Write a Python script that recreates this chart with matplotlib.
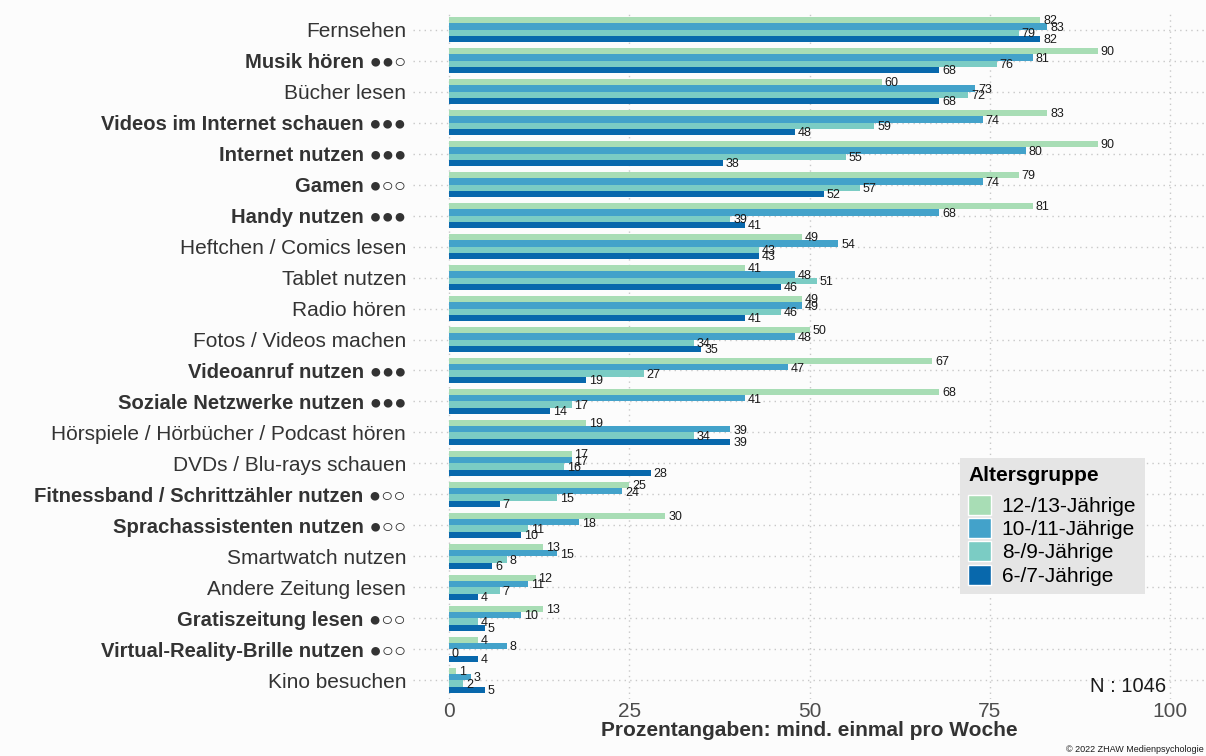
import numpy as np
import matplotlib
matplotlib.use("Agg")
import matplotlib.pyplot as plt

plt.rcParams['font.family'] = ['Liberation Sans', 'DejaVu Sans']

# Daten (von oben nach unten)
kategorien = [
    "Fernsehen", "Musik hören ●●○", "Bücher lesen", "Videos im Internet schauen ●●●",
    "Internet nutzen ●●●", "Gamen ●○○", "Handy nutzen ●●●", "Heftchen / Comics lesen",
    "Tablet nutzen", "Radio hören", "Fotos / Videos machen", "Videoanruf nutzen ●●●",
    "Soziale Netzwerke nutzen ●●●", "Hörspiele / Hörbücher / Podcast hören",
    "DVDs / Blu-rays schauen", "Fitnessband / Schrittzähler nutzen ●○○",
    "Sprachassistenten nutzen ●○○", "Smartwatch nutzen", "Andere Zeitung lesen",
    "Gratiszeitung lesen ●○○", "Virtual-Reality-Brille nutzen ●○○", "Kino besuchen",
]
jahre_12_13 = [82, 90, 60, 83, 90, 79, 81, 49, 41, 49, 50, 67, 68, 19, 17, 25, 30, 13, 12, 13, 4, 1]
jahre_10_11 = [83, 81, 73, 74, 80, 74, 68, 54, 48, 49, 48, 47, 41, 39, 17, 24, 18, 15, 11, 10, 8, 3]
jahre_8_9 = [79, 76, 72, 59, 55, 57, 39, 43, 51, 46, 34, 27, 17, 34, 16, 15, 11, 8, 7, 4, 0, 2]
jahre_6_7 = [82, 68, 68, 48, 38, 52, 41, 43, 46, 41, 35, 19, 14, 39, 28, 7, 10, 6, 4, 5, 4, 5]

gruppen = ["12-/13-Jährige", "10-/11-Jährige", "8-/9-Jährige", "6-/7-Jährige"]
farben = ["#a8ddb5", "#43a2ca", "#7bccc4", "#0868ac"]
serien = [jahre_12_13, jahre_10_11, jahre_8_9, jahre_6_7]

bg = "#fcfcfc"
fig = plt.figure(figsize=(12.06, 7.56), dpi=100, facecolor=bg)
ax = fig.add_axes([413 / 1206, 1 - 699 / 756, 1 - 413 / 1206, (699 - 11) / 756])
ax.set_facecolor(bg)

y = np.arange(len(kategorien))
h = 0.205
for j, (werte, farbe, name) in enumerate(zip(serien, farben, gruppen)):
    pos = y + (j - 1.5) * h
    ax.barh(pos, werte, height=h, color=farbe, label=name, zorder=2)
    for p, v in zip(pos, werte):
        ax.text(v + 0.4, p + 0.04, str(v), va='center', ha='left', fontsize=9,
                color='#1a1a1a', zorder=3)

ax.set_xlim(-5, 105)
ax.set_ylim(len(kategorien) - 1 + 0.6, -0.6)
ax.set_xticks([0, 25, 50, 75, 100])
ax.set_xticklabels(["0", "25", "50", "75", "100"], fontsize=15, color='#4d4d4d')
ax.set_yticks(y)
ax.set_yticklabels(kategorien, fontsize=15, color='#333333')
for lab in ax.get_yticklabels():
    if '●' in lab.get_text() or '○' in lab.get_text():
        lab.set_fontweight('bold')
        lab.set_fontsize(14.6)
ax.tick_params(axis='x', length=0, pad=2)
ax.tick_params(axis='y', length=0, pad=5)
ax.grid(True, linestyle=(0, (1, 3)), color='#c8c8c8', linewidth=1, zorder=0)
for s in ax.spines.values():
    s.set_visible(False)

ax.set_xlabel("Prozentangaben: mind. einmal pro Woche", fontsize=15,
              fontweight='bold', color='#333333', labelpad=0)

leg = ax.legend(loc='upper left', bbox_to_anchor=(960 / 1206, 1 - 458 / 756),
                bbox_transform=fig.transFigure, title="Altersgruppe",
                fontsize=15, title_fontproperties={'weight': 'bold', 'size': 15},
                facecolor='#e5e5e5', edgecolor='none', fancybox=False, framealpha=1,
                handlelength=1.1, handleheight=1.1, labelspacing=0.1,
                handletextpad=0.5, borderpad=0.4, borderaxespad=0)
leg._legend_box.align = "left"
leg._legend_box.sep = 7
for patch in leg.get_patches():
    patch.set_edgecolor('white')

fig.text(1128 / 1206, 1 - 687 / 756, "N : 1046", ha='center', va='center',
         fontsize=14.5, color='#1a1a1a')
fig.text(1066 / 1206, 1 - 750 / 756, "© 2022 ZHAW Medienpsychologie", ha='left',
         va='center', fontsize=6.5, color='#1a1a1a')

fig.savefig("out.png", dpi=100, facecolor=bg)
